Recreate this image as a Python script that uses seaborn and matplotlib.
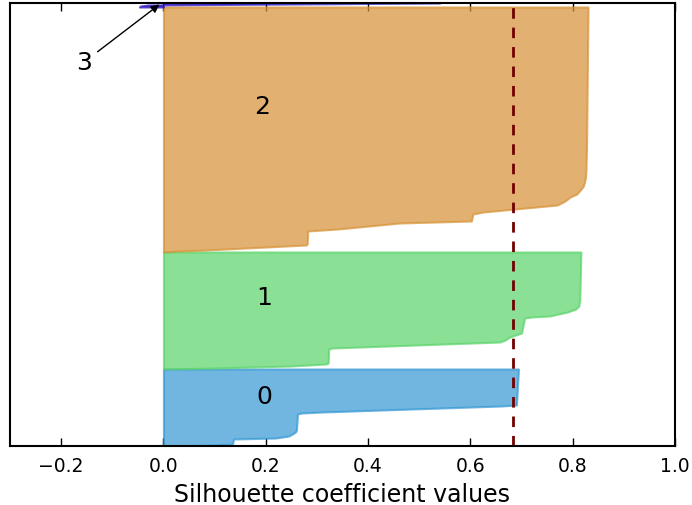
import numpy as np
import matplotlib
matplotlib.use("Agg")
import matplotlib.pyplot as plt
import seaborn as sns

# Silhouette profiles: (sample position, silhouette value)
c0_y = [0, 1, 2, 7, 8, 10, 12, 14, 16, 32, 33, 34, 40, 41, 77]
c0_v = [0.0, 0.10, 0.135, 0.137, 0.22, 0.245, 0.252, 0.258, 0.26, 0.262, 0.27, 0.31, 0.66, 0.69, 0.694]

c1_y = [77, 78, 80, 82, 83, 97, 98, 104, 106, 109, 113, 128, 129, 130, 134, 137, 140, 147, 194]
c1_v = [0.0, 0.10, 0.25, 0.318, 0.322, 0.323, 0.33, 0.658, 0.668, 0.677, 0.70, 0.706, 0.72, 0.755, 0.79, 0.806, 0.812, 0.814, 0.816]

c2_y = [194, 195, 196, 201, 202, 215, 217, 223, 225, 232, 234, 241, 245, 249, 252, 256, 260, 268, 277, 297, 439]
c2_v = [0.0, 0.03, 0.083, 0.279, 0.281, 0.282, 0.341, 0.462, 0.602, 0.605, 0.625, 0.77, 0.785, 0.795, 0.808, 0.815, 0.821, 0.825, 0.826, 0.827, 0.83]

c3_y = [439, 440, 441, 442, 443, 445]
c3_v = [-0.047, -0.045, -0.03, 0.25, 0.54, 0.55]

cluster_labels = ["0", "1", "2", "3"]
label_pos = [(0.197, 50), (0.197, 149), (0.193, 340)]
avg_silhouette = 0.683
n_total = 443

xticks = [-0.2, 0.0, 0.2, 0.4, 0.6, 0.8, 1.0]
xlabel = "Silhouette coefficient values"

sns.set_style("white")
plt.rcParams["text.color"] = "black"
plt.rcParams["xtick.color"] = "black"
plt.rcParams["axes.labelcolor"] = "black"
base = ["#3397d3", "#59d369", "#d69135", "#2a10c0"]
palette = sns.color_palette(base)

fig = plt.figure(figsize=(6.92, 5.06), dpi=100)
ax = fig.add_axes([10/692, (506-447)/506, 665/692, 443/506])

profiles = [(c0_y, c0_v), (c1_y, c1_v), (c2_y, c2_v), (c3_y, c3_v)]
for (ys, vs), col in zip(profiles, palette):
    ax.fill_betweenx(ys, 0, vs, facecolor=col, edgecolor=col, alpha=0.7, linewidth=1.5)

for lab, (x, y) in zip(cluster_labels[:3], label_pos):
    ax.text(x, y, lab, fontsize=18, ha="center", va="center", color="black")

ax.annotate(cluster_labels[3], xy=(-0.008, 441.5), xytext=(-0.155, 384),
            fontsize=18, ha="center", va="center", color="black",
            arrowprops=dict(arrowstyle="-|>", color="black", lw=1, mutation_scale=12,
                            shrinkA=2, shrinkB=0))

ax.axvline(avg_silhouette, color="#700000", linestyle=(0, (3.8, 3.2)), linewidth=2)

ax.set_xlim(-0.3, 1.0)
ax.set_ylim(0, n_total)
ax.set_yticks([])
ax.set_xticks(xticks)
ax.set_xticklabels(["\u22120.2" if t < 0 else f"{t:.1f}" for t in xticks], fontsize=13.5, color="black")
ax.set_xlabel(xlabel, fontsize=17, labelpad=5, color="black")
ax.tick_params(axis="x", direction="in", top=True, bottom=True, length=6, width=1, color="black", pad=7)
for s in ax.spines.values():
    s.set_color("black")
    s.set_linewidth(1.5)

fig.savefig("out.png", dpi=100)
